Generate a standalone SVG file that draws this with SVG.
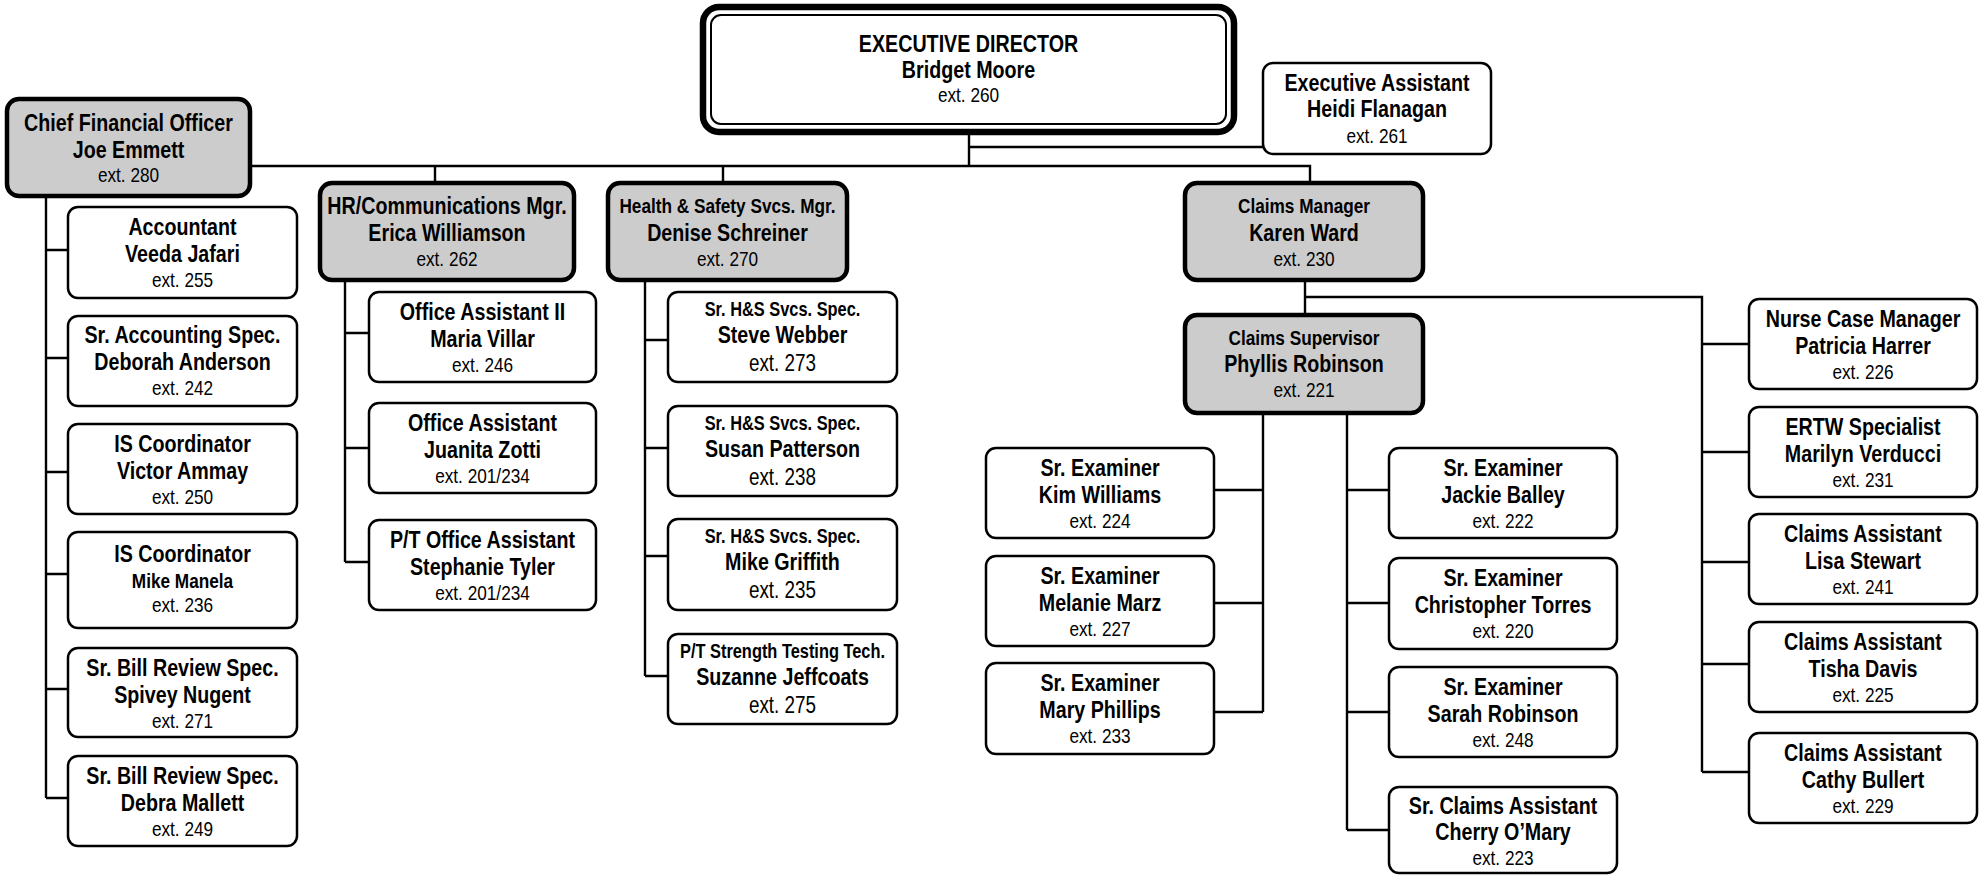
<svg xmlns="http://www.w3.org/2000/svg" width="1986" height="875" viewBox="0 0 1986 875">
<style>
.box{fill:#fff;stroke:#000;stroke-width:2.5}
.mgr{fill:#cccccc;stroke:#000;stroke-width:4.5}
.ed1{fill:#fff;stroke:#000;stroke-width:6.5}
.ed2{fill:none;stroke:#000;stroke-width:2}
.ln{fill:none;stroke:#000;stroke-width:2.4}
text{font-family:"Liberation Sans",Arial,sans-serif;text-anchor:middle;fill:#000}
.b{font-weight:bold;font-size:24px}
.s{font-weight:bold;font-size:21px}
.s20{font-weight:bold;font-size:20px}
.e{font-size:21px}
.e23{font-size:23px}
</style>
<g id="connectors">
<path class="ln" d="M250 166H1310V183M969 132V166M969 147H1263M435 166V183M723 166V183"/>
<path class="ln" d="M46 196V798M46 250H68M46 358H68M46 472H68M46 574H68M46 689H68M46 798H68"/>
<path class="ln" d="M345 280V562M345 333H369M345 448H369M345 562H369"/>
<path class="ln" d="M645 280V676M645 340H668M645 448H668M645 556H668M645 676H668"/>
<path class="ln" d="M1305 280V315M1305 297H1702V772M1702 344H1749M1702 452H1749M1702 562H1749M1702 664H1749M1702 772H1749"/>
<path class="ln" d="M1263 413V712M1214 490H1263M1214 603H1263M1214 712H1263"/>
<path class="ln" d="M1347 413V830M1347 490H1389M1347 603H1389M1347 712H1389M1347 830H1389"/>
</g>
<g id="n-ed">
<rect class="ed1" x="703" y="7" width="531" height="125" rx="16"/>
<rect class="ed2" x="711" y="15" width="515" height="109" rx="10"/>
<g transform="translate(968.5 0) scale(0.82 1)"><text class="b" y="52">EXECUTIVE DIRECTOR</text><text class="b" y="78">Bridget Moore</text><text class="e" y="102">ext. 260</text></g>
</g>
<g id="n-ea">
<rect class="box" x="1263" y="63" width="228" height="91" rx="10"/>
<g transform="translate(1377 0) scale(0.82 1)"><text class="b" y="91">Executive Assistant</text><text class="b" y="117">Heidi Flanagan</text><text class="e" y="143">ext. 261</text></g>
</g>
<g id="n-cfo">
<rect class="mgr" x="7" y="99" width="243" height="97" rx="12"/>
<g transform="translate(128.5 0) scale(0.82 1)"><text class="b" y="131">Chief Financial Officer</text><text class="b" y="158">Joe Emmett</text><text class="e" y="182">ext. 280</text></g>
</g>
<g id="n-hr">
<rect class="mgr" x="320" y="183" width="254" height="97" rx="12"/>
<g transform="translate(447 0) scale(0.82 1)"><text class="b" y="214">HR/Communications Mgr.</text><text class="b" y="241">Erica Williamson</text><text class="e" y="266">ext. 262</text></g>
</g>
<g id="n-hs">
<rect class="mgr" x="608" y="183" width="239" height="97" rx="12"/>
<g transform="translate(727.5 0) scale(0.82 1)"><text class="s" y="213">Health &amp; Safety Svcs. Mgr.</text><text class="b" y="241">Denise Schreiner</text><text class="e" y="266">ext. 270</text></g>
</g>
<g id="n-cm">
<rect class="mgr" x="1185" y="183" width="238" height="97" rx="12"/>
<g transform="translate(1304 0) scale(0.82 1)"><text class="s" y="213">Claims Manager</text><text class="b" y="241">Karen Ward</text><text class="e" y="266">ext. 230</text></g>
</g>
<g id="n-cs">
<rect class="mgr" x="1185" y="315" width="238" height="98" rx="12"/>
<g transform="translate(1304 0) scale(0.82 1)"><text class="s" y="345">Claims Supervisor</text><text class="b" y="372">Phyllis Robinson</text><text class="e" y="397">ext. 221</text></g>
</g>
<!-- CFO staff -->
<g id="n-acc">
<rect class="box" x="68" y="207" width="229" height="91" rx="10"/>
<g transform="translate(182.5 0) scale(0.82 1)"><text class="b" y="235">Accountant</text><text class="b" y="262">Veeda Jafari</text><text class="e" y="287">ext. 255</text></g>
</g>
<g id="n-sra">
<rect class="box" x="68" y="316" width="229" height="90" rx="10"/>
<g transform="translate(182.5 0) scale(0.82 1)"><text class="b" y="343">Sr. Accounting Spec.</text><text class="b" y="370">Deborah Anderson</text><text class="e" y="395">ext. 242</text></g>
</g>
<g id="n-is1">
<rect class="box" x="68" y="424" width="229" height="90" rx="10"/>
<g transform="translate(182.5 0) scale(0.82 1)"><text class="b" y="452">IS Coordinator</text><text class="b" y="479">Victor Ammay</text><text class="e" y="504">ext. 250</text></g>
</g>
<g id="n-is2">
<rect class="box" x="68" y="532" width="229" height="96" rx="10"/>
<g transform="translate(182.5 0) scale(0.82 1)"><text class="b" y="562">IS Coordinator</text><text class="s" y="588">Mike Manela</text><text class="e" y="612">ext. 236</text></g>
</g>
<g id="n-br1">
<rect class="box" x="68" y="648" width="229" height="89" rx="10"/>
<g transform="translate(182.5 0) scale(0.82 1)"><text class="b" y="676">Sr. Bill Review Spec.</text><text class="b" y="703">Spivey Nugent</text><text class="e" y="728">ext. 271</text></g>
</g>
<g id="n-br2">
<rect class="box" x="68" y="756" width="229" height="90" rx="10"/>
<g transform="translate(182.5 0) scale(0.82 1)"><text class="b" y="784">Sr. Bill Review Spec.</text><text class="b" y="811">Debra Mallett</text><text class="e" y="836">ext. 249</text></g>
</g>
<!-- HR staff -->
<g id="n-oa2">
<rect class="box" x="369" y="292" width="227" height="90" rx="10"/>
<g transform="translate(482.5 0) scale(0.82 1)"><text class="b" y="320">Office Assistant II</text><text class="b" y="347">Maria Villar</text><text class="e" y="372">ext. 246</text></g>
</g>
<g id="n-oa">
<rect class="box" x="369" y="403" width="227" height="90" rx="10"/>
<g transform="translate(482.5 0) scale(0.82 1)"><text class="b" y="431">Office Assistant</text><text class="b" y="458">Juanita Zotti</text><text class="e" y="483">ext. 201/234</text></g>
</g>
<g id="n-pto">
<rect class="box" x="369" y="520" width="227" height="90" rx="10"/>
<g transform="translate(482.5 0) scale(0.82 1)"><text class="b" y="548">P/T Office Assistant</text><text class="b" y="575">Stephanie Tyler</text><text class="e" y="600">ext. 201/234</text></g>
</g>
<!-- H&S staff -->
<g id="n-hs1">
<rect class="box" x="668" y="292" width="229" height="90" rx="10"/>
<g transform="translate(782.5 0) scale(0.82 1)"><text class="s20" y="316">Sr. H&amp;S Svcs. Spec.</text><text class="b" y="343">Steve Webber</text><text class="e23" y="371">ext. 273</text></g>
</g>
<g id="n-hs2">
<rect class="box" x="668" y="406" width="229" height="90" rx="10"/>
<g transform="translate(782.5 0) scale(0.82 1)"><text class="s20" y="430">Sr. H&amp;S Svcs. Spec.</text><text class="b" y="457">Susan Patterson</text><text class="e23" y="485">ext. 238</text></g>
</g>
<g id="n-hs3">
<rect class="box" x="668" y="519" width="229" height="91" rx="10"/>
<g transform="translate(782.5 0) scale(0.82 1)"><text class="s20" y="543">Sr. H&amp;S Svcs. Spec.</text><text class="b" y="570">Mike Griffith</text><text class="e23" y="598">ext. 235</text></g>
</g>
<g id="n-hs4">
<rect class="box" x="668" y="634" width="229" height="90" rx="10"/>
<g transform="translate(782.5 0) scale(0.82 1)"><text class="s20" y="658">P/T Strength Testing Tech.</text><text class="b" y="685">Suzanne Jeffcoats</text><text class="e23" y="713">ext. 275</text></g>
</g>
<!-- Examiners left -->
<g id="n-ex1">
<rect class="box" x="986" y="448" width="228" height="90" rx="10"/>
<g transform="translate(1100 0) scale(0.82 1)"><text class="b" y="476">Sr. Examiner</text><text class="b" y="503">Kim Williams</text><text class="e" y="528">ext. 224</text></g>
</g>
<g id="n-ex2">
<rect class="box" x="986" y="556" width="228" height="90" rx="10"/>
<g transform="translate(1100 0) scale(0.82 1)"><text class="b" y="584">Sr. Examiner</text><text class="b" y="611">Melanie Marz</text><text class="e" y="636">ext. 227</text></g>
</g>
<g id="n-ex3">
<rect class="box" x="986" y="663" width="228" height="91" rx="10"/>
<g transform="translate(1100 0) scale(0.82 1)"><text class="b" y="691">Sr. Examiner</text><text class="b" y="718">Mary Phillips</text><text class="e" y="743">ext. 233</text></g>
</g>
<!-- Examiners right -->
<g id="n-ex4">
<rect class="box" x="1389" y="448" width="228" height="90" rx="10"/>
<g transform="translate(1503 0) scale(0.82 1)"><text class="b" y="476">Sr. Examiner</text><text class="b" y="503">Jackie Balley</text><text class="e" y="528">ext. 222</text></g>
</g>
<g id="n-ex5">
<rect class="box" x="1389" y="558" width="228" height="91" rx="10"/>
<g transform="translate(1503 0) scale(0.82 1)"><text class="b" y="586">Sr. Examiner</text><text class="b" y="613">Christopher Torres</text><text class="e" y="638">ext. 220</text></g>
</g>
<g id="n-ex6">
<rect class="box" x="1389" y="667" width="228" height="90" rx="10"/>
<g transform="translate(1503 0) scale(0.82 1)"><text class="b" y="695">Sr. Examiner</text><text class="b" y="722">Sarah Robinson</text><text class="e" y="747">ext. 248</text></g>
</g>
<g id="n-sca">
<rect class="box" x="1389" y="787" width="228" height="86" rx="10"/>
<g transform="translate(1503 0) scale(0.82 1)"><text class="b" y="814">Sr. Claims Assistant</text><text class="b" y="840">Cherry O’Mary</text><text class="e" y="865">ext. 223</text></g>
</g>
<!-- Right column -->
<g id="n-ncm">
<rect class="box" x="1749" y="299" width="228" height="90" rx="10"/>
<g transform="translate(1863 0) scale(0.82 1)"><text class="b" y="327">Nurse Case Manager</text><text class="b" y="354">Patricia Harrer</text><text class="e" y="379">ext. 226</text></g>
</g>
<g id="n-ertw">
<rect class="box" x="1749" y="407" width="228" height="90" rx="10"/>
<g transform="translate(1863 0) scale(0.82 1)"><text class="b" y="435">ERTW Specialist</text><text class="b" y="462">Marilyn Verducci</text><text class="e" y="487">ext. 231</text></g>
</g>
<g id="n-ca1">
<rect class="box" x="1749" y="514" width="228" height="90" rx="10"/>
<g transform="translate(1863 0) scale(0.82 1)"><text class="b" y="542">Claims Assistant</text><text class="b" y="569">Lisa Stewart</text><text class="e" y="594">ext. 241</text></g>
</g>
<g id="n-ca2">
<rect class="box" x="1749" y="622" width="228" height="90" rx="10"/>
<g transform="translate(1863 0) scale(0.82 1)"><text class="b" y="650">Claims Assistant</text><text class="b" y="677">Tisha Davis</text><text class="e" y="702">ext. 225</text></g>
</g>
<g id="n-ca3">
<rect class="box" x="1749" y="733" width="228" height="90" rx="10"/>
<g transform="translate(1863 0) scale(0.82 1)"><text class="b" y="761">Claims Assistant</text><text class="b" y="788">Cathy Bullert</text><text class="e" y="813">ext. 229</text></g>
</g>
</svg>
